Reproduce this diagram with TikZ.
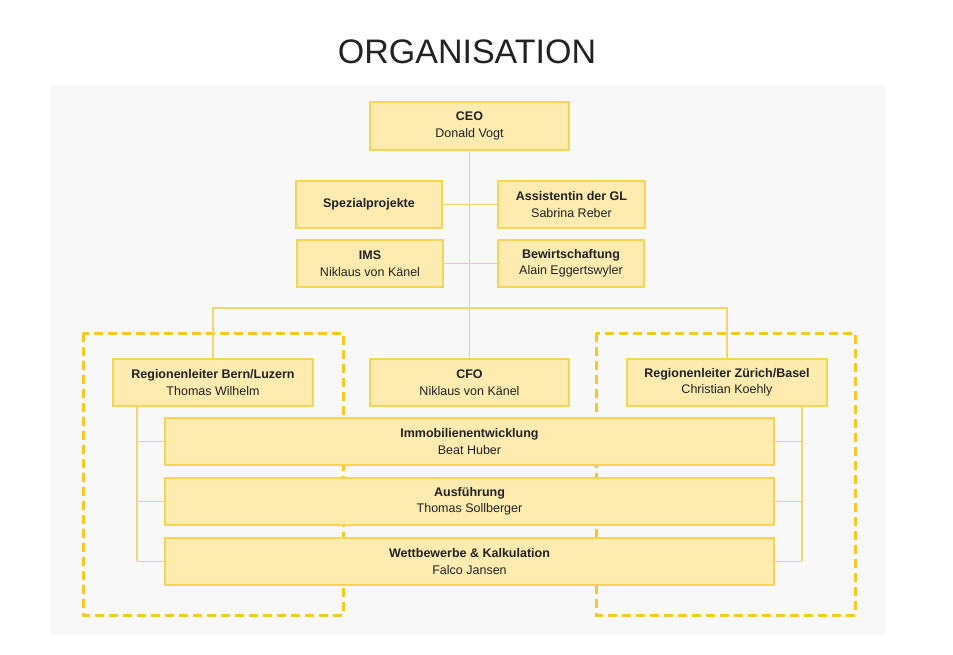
\documentclass[tikz,border=0pt]{standalone}
\usepackage{fontspec}
\setmainfont{Liberation Sans}
\definecolor{bfill}{HTML}{FDEBB0}
\definecolor{bdraw}{HTML}{F7D552}
\definecolor{dash}{HTML}{F7C824}
\definecolor{lin}{HTML}{F4D56A}
\definecolor{panel}{HTML}{F8F8F8}
\definecolor{txt}{HTML}{222222}
\begin{document}
\begin{tikzpicture}[x=1pt,y=-1pt,
  box/.style={draw=bdraw,fill=bfill,line width=1.5pt,align=center,inner sep=0pt,font=\fontsize{12.5}{16.5}\selectfont,text=txt},
  con/.style={draw=lin,line width=1.2pt},
  grp/.style={draw=dash,line width=3pt,dash pattern=on 9pt off 5pt}]
\useasboundingbox (0,0) rectangle (953,654);
\fill[white] (0,0) rectangle (953,654);
\fill[panel] (50,85) rectangle (885,635);
\node[font=\fontsize{34}{36}\selectfont,text=txt] (title) at (467,52) {ORGANISATION};
\draw[grp] (83,333) rectangle (343,615);
\draw[grp] (596,333) rectangle (855,615);
\newcommand{\bx}[6]{\node[box,minimum width=#4-#2,minimum height=#5-#3] (#1) at ({(#2+#4)/2},{(#3+#5)/2}) {#6};}
\bx{ceo}{370}{102}{569}{150}{\textbf{CEO}\\Donald Vogt}
\bx{spez}{296}{181}{442}{228}{\textbf{Spezialprojekte}}
\bx{ass}{498}{181}{645}{228}{\textbf{Assistentin der GL}\\Sabrina Reber}
\bx{ims}{297}{240}{443}{287}{\textbf{IMS}\\Niklaus von Känel}
\bx{bew}{498}{240}{644}{287}{\textbf{Bewirtschaftung}\\Alain Eggertswyler}
\bx{bern}{113}{359}{313}{406}{\textbf{Regionenleiter Bern/Luzern}\\Thomas Wilhelm}
\bx{cfo}{370}{359}{569}{406}{\textbf{CFO}\\Niklaus von Känel}
\bx{zh}{627}{359}{827}{406}{\textbf{Regionenleiter Zürich/Basel}\\Christian Koehly}
\bx{immo}{165}{418}{774}{465}{\textbf{Immobilienentwicklung}\\Beat Huber}
\bx{aus}{165}{478}{774}{525}{\textbf{Ausführung}\\Thomas Sollberger}
\bx{wett}{165}{538}{774}{585}{\textbf{Wettbewerbe \& Kalkulation}\\Falco Jansen}
\coordinate (t3) at (469.5,308);
\coordinate (lb) at (137,561);
\coordinate (rb) at (802,561);
\draw[con] (ceo.south) -- (cfo.north);
\draw[con] (spez.east) -- (ass.west);
\draw[con] (ims.east) -- (bew.west);
\draw[con] (bern.north) |- (t3) -| (zh.north);
\draw[con] (bern.south -| lb) -- (lb);
\draw[con] (rb |- zh.south) -- (rb);
\foreach \n in {immo,aus,wett}{
  \draw[con] (lb |- \n.west) -- (\n.west);
  \draw[con] (rb |- \n.east) -- (\n.east);
}
\end{tikzpicture}
\end{document}
